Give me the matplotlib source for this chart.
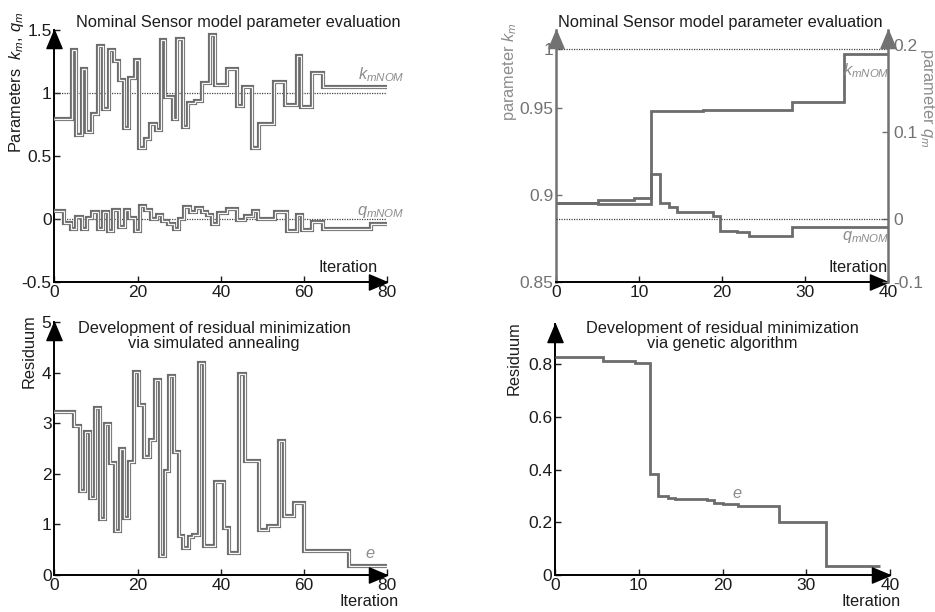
import numpy as np
import matplotlib
matplotlib.use('Agg')
import matplotlib.pyplot as plt
from matplotlib.ticker import FuncFormatter

plt.rcParams['font.family'] = ['Liberation Sans', 'DejaVu Sans']
plt.rcParams['font.size'] = 11.8
plt.rcParams['axes.unicode_minus'] = False
plt.rcParams['mathtext.fontset'] = 'custom'
plt.rcParams['mathtext.rm'] = 'Liberation Sans'
plt.rcParams['mathtext.it'] = 'Liberation Sans:italic'

# ---- simulated annealing: parameter evaluation (top left) ----
sa_k_edges = [0, 4.2, 5.2, 6.6, 7.6, 9.0, 10.4, 11.8, 13.2, 14.3, 15.6, 16.7, 17.9, 19.4,
              20.4, 21.8, 23.0, 24.4, 25.7, 26.7, 28.4, 29.5, 30.8, 32.2, 33.8, 35.4, 37.3,
              38.7, 41.4, 43.8, 45.3, 47.6, 49.1, 52.9, 55.5, 58.2, 59.3, 61.8, 64.5, 80.0]
sa_k_vals = [0.79, 1.34, 0.67, 1.19, 0.69, 0.83, 1.37, 0.87, 1.34, 1.25, 1.10, 0.72, 1.12,
             1.26, 0.56, 0.635, 0.75, 0.71, 1.42, 0.97, 0.79, 1.43, 0.73, 0.92, 0.94, 1.08,
             1.46, 1.06, 1.19, 0.90, 1.045, 0.56, 0.755, 1.09, 0.905, 1.29, 0.885, 1.155, 1.05]
sa_q_edges = [0, 2.4, 3.9, 5.3, 6.6, 7.8, 9.1, 10.5, 11.8, 13.0, 14.2, 15.5, 16.9, 17.9,
              19.3, 20.5, 21.9, 23.2, 24.6, 25.9, 27.2, 28.7, 30.0, 31.2, 32.6, 34.0, 35.4,
              36.8, 38.0, 39.4, 41.6, 44.0, 45.8, 47.8, 49.0, 53.0, 56.0, 58.2, 59.4, 62.0,
              64.6, 76.2, 80.6]
sa_q_vals = [0.06, -0.035, -0.08, 0.015, -0.08, 0.005, 0.055, -0.08, 0.055, -0.095,
             0.07, -0.065, 0.07, 0.01, -0.095, 0.1, 0.075, 0.0, 0.035, -0.015,
             -0.04, -0.08, 0.0, 0.095, 0.055, 0.09, 0.055, 0.035, -0.04, 0.045,
             0.08, -0.01, 0.025, 0.06, 0.0, 0.053, -0.098, 0.032, -0.087, -0.026,
             -0.079, -0.04]

# ---- genetic algorithm: parameter evaluation (top right) ----
ga_k_edges = [0, 5.1, 9.4, 11.5, 17.7, 28.4, 34.7, 40]
ga_k_vals = [0.8956, 0.897, 0.898, 0.9483, 0.949, 0.955, 0.9958]
ga_q_edges = [0, 5.1, 11.5, 12.5, 13.6, 14.6, 18.9, 19.8, 21.8, 23.2, 28.4, 40]
ga_q_vals = [0.0187, 0.0175, 0.0517, 0.0187, 0.0134, 0.0084, 0.0034, -0.0186, -0.021,
             -0.027, -0.0122]

# ---- residuals ----
sa_e_edges = [0, 4.7, 6.2, 7.4, 8.6, 9.8, 11.0, 12.2, 13.4, 14.6, 15.8, 16.8, 18.0, 19.2,
              20.4, 21.6, 23.0, 24.2, 25.4, 26.6, 27.6, 28.8, 30.0, 31.0, 32.3, 33.4, 34.7,
              36.0, 38.6, 40.8, 42.0, 44.4, 45.8, 49.2, 51.4, 54.0, 55.2, 57.6, 60.0, 70.9, 80.0]
sa_e_vals = [3.23, 2.95, 1.66, 2.82, 1.52, 3.30, 1.11, 2.98, 2.21, 0.87,
             2.50, 1.12, 2.24, 4.01, 3.35, 2.33, 2.66, 3.85, 0.38, 2.05,
             3.93, 2.43, 0.78, 0.53, 0.76, 0.79, 4.18, 0.58, 1.83, 0.92,
             0.43, 3.98, 2.26, 0.88, 0.96, 2.64, 1.17, 1.42, 0.48, 0.18]
ga_e_edges = [0, 5.7, 9.5, 11.4, 12.35, 13.5, 14.3, 18.2, 19.0, 20.0, 21.8, 26.7, 32.4, 38.8]
ga_e_vals = [0.827, 0.813, 0.806, 0.384, 0.301, 0.294, 0.289, 0.285, 0.272, 0.268,
             0.263, 0.203, 0.035]

k_nom = 1.0
q_nom = 0.0

# the source's top-right axes are not evenly spaced, calibrate them piecewise
k_axis_vals = [0.80, 0.85, 0.90, 0.95, 1.00, 1.05]
k_axis_pos = [-87, 0, 87, 174, 233, 292]
q_axis_vals = [-0.2, -0.1, 0.0, 0.1, 0.2, 0.3]
q_axis_pos = [-63, 0, 63, 150, 237, 324]

W, H = 935, 612
LINE = '#6c6c6c'
LABEL = '#8c8c8c'
TXT = '#1c1c1c'
AX_GRAY = '#727272'


def box(left, top, right, bottom):
    return [left / W, 1 - bottom / H, (right - left) / W, (bottom - top) / H]


def px(x, y):
    return x / W, 1 - y / H


def arrow(ax, x, y, direction, color):
    if direction == 'right':
        verts = [(0, 0), (-1, 0.42), (-1, -0.42), (0, 0)]
    else:
        verts = [(0, 0), (0.42, -1), (-0.42, -1), (0, 0)]
    ax.plot(x, y, marker=verts, ms=26, color=color, transform=ax.transAxes,
            clip_on=False, zorder=10, lw=0)


def hollow(ax, vals, edges):
    ax.stairs(vals, edges, baseline=None, color=LINE, lw=3.0, joinstyle='miter', zorder=3)
    ax.stairs(vals, edges, baseline=None, color='#f6f6f6', lw=0.9, joinstyle='miter', zorder=4)


def nominal(ax, v):
    ax.axhline(v, color='#444444', lw=0.9, ls=(0, (1, 1)), zorder=2)


def style(ax):
    for s in ['top', 'right']:
        ax.spines[s].set_visible(False)
    for s in ['left', 'bottom']:
        ax.spines[s].set_linewidth(1.4)
        ax.spines[s].set_color('black')
    ax.tick_params(direction='in', length=4, width=1, pad=2, colors=TXT, labelsize=12.5)
    ax.xaxis.set_major_formatter(FuncFormatter(lambda v, p: f'{v:g}'))
    ax.yaxis.set_major_formatter(FuncFormatter(lambda v, p: f'{v:g}'))
    ax.patch.set_alpha(0)


fig = plt.figure(figsize=(W / 100, H / 100), dpi=100)

# top left
ax1 = fig.add_axes(box(54.3, 30, 387.3, 282))
style(ax1)
nominal(ax1, k_nom)
nominal(ax1, q_nom)
hollow(ax1, sa_k_vals, sa_k_edges)
hollow(ax1, sa_q_vals, sa_q_edges)
ax1.set_xlim(0, 80)
ax1.set_ylim(-0.5, 1.5)
ax1.set_xticks([0, 20, 40, 60, 80])
ax1.set_yticks([-0.5, 0, 0.5, 1, 1.5])
arrow(ax1, 1, 0, 'right', 'black')
arrow(ax1, 0, 1, 'up', 'black')

# top right
ax2 = fig.add_axes(box(556, 30, 888, 282))
ax2r = ax2.twinx()
ax2.set_yscale('function', functions=(lambda v: np.interp(v, k_axis_vals, k_axis_pos),
                                      lambda p: np.interp(p, k_axis_pos, k_axis_vals)))
ax2r.set_yscale('function', functions=(lambda v: np.interp(v, q_axis_vals, q_axis_pos),
                                       lambda p: np.interp(p, q_axis_pos, q_axis_vals)))
style(ax2)
ax2.spines['left'].set_color(AX_GRAY)
ax2.spines['left'].set_linewidth(1.8)
for s in ['top', 'left', 'bottom']:
    ax2r.spines[s].set_visible(False)
ax2r.spines['right'].set_color(AX_GRAY)
ax2r.spines['right'].set_linewidth(1.8)
ax2r.tick_params(direction='in', length=4, width=1, pad=4, colors=AX_GRAY, labelsize=12.5)
ax2r.yaxis.set_major_formatter(FuncFormatter(lambda v, p: f'{v:g}'))
ax2.tick_params(axis='y', colors=AX_GRAY)
ax2.tick_params(axis='x', colors=TXT)
nominal(ax2, k_nom)
nominal(ax2r, q_nom)
ax2.stairs(ga_k_vals, ga_k_edges, baseline=None, color=LINE, lw=2.0, joinstyle='miter', zorder=3)
ax2r.stairs(ga_q_vals, ga_q_edges, baseline=None, color=LINE, lw=2.0, joinstyle='miter', zorder=3)
ax2.set_xlim(0, 40)
ax2.set_ylim(0.85, 1.0161)
ax2r.set_ylim(-0.1, 0.2172)
ax2.set_xticks([0, 10, 20, 30, 40])
ax2.set_yticks([0.85, 0.9, 0.95, 1])
ax2r.set_yticks([-0.1, 0, 0.1, 0.2])
arrow(ax2, 1, 0, 'right', 'black')
arrow(ax2, 0, 1, 'up', AX_GRAY)
arrow(ax2r, 1, 1, 'up', AX_GRAY)

# bottom left
ax3 = fig.add_axes(box(54.3, 322, 387.3, 575))
style(ax3)
hollow(ax3, sa_e_vals, sa_e_edges)
ax3.set_xlim(0, 80)
ax3.set_ylim(0, 5)
ax3.set_xticks([0, 20, 40, 60, 80])
ax3.set_yticks([0, 1, 2, 3, 4, 5])
arrow(ax3, 1, 0, 'right', 'black')
arrow(ax3, 0, 1, 'up', 'black')

# bottom right
ax4 = fig.add_axes(box(555, 324, 890, 575))
style(ax4)
ax4.stairs(ga_e_vals, ga_e_edges, baseline=None, color=LINE, lw=2.0, joinstyle='miter', zorder=3)
ax4.set_xlim(0, 40)
ax4.set_ylim(0, 0.953)
ax4.set_xticks([0, 10, 20, 30, 40])
ax4.set_yticks([0, 0.2, 0.4, 0.6, 0.8])
arrow(ax4, 1, 0, 'right', 'black')
arrow(ax4, 0, 1, 'up', 'black')

# titles
fig.text(*px(238, 23), 'Nominal Sensor model parameter evaluation', ha='center', va='center', color=TXT)
fig.text(*px(720, 23), 'Nominal Sensor model parameter evaluation', ha='center', va='center', color=TXT)
fig.text(*px(214, 336), 'Development of residual minimization\nvia simulated annealing',
         ha='center', va='center', color=TXT, linespacing=1.0)
fig.text(*px(722, 336), 'Development of residual minimization\nvia genetic algorithm',
         ha='center', va='center', color=TXT, linespacing=1.0)

# axis labels
fig.text(*px(17, 82), r'Parameters  $k_m$, $q_m$', rotation=90, ha='center', va='center', color=TXT)
fig.text(*px(510, 72), r'parameter $k_m$', rotation=90, ha='center', va='center', color=LABEL)
fig.text(*px(927, 98), r'parameter $q_m$', rotation=270, ha='center', va='center', color=LABEL)
fig.text(*px(29, 351), 'Residuum', rotation=90, ha='center', va='center', color=TXT)
fig.text(*px(514, 358), 'Residuum', rotation=90, ha='center', va='center', color=TXT)
fig.text(*px(378, 267), 'Iteration', ha='right', va='center', color=TXT)
fig.text(*px(888, 267), 'Iteration', ha='right', va='center', color=TXT)
fig.text(*px(399, 601), 'Iteration', ha='right', va='center', color=TXT)
fig.text(*px(901, 601), 'Iteration', ha='right', va='center', color=TXT)

# curve labels
fig.text(*px(381, 75), r'$k_{mNOM}$', ha='center', va='center', color=LABEL)
fig.text(*px(381, 212), r'$q_{mNOM}$', ha='center', va='center', color=LABEL)
fig.text(*px(866, 71), r'$k_{mNOM}$', ha='center', va='center', color=LABEL)
fig.text(*px(866, 237), r'$q_{mNOM}$', ha='center', va='center', color=LABEL)
fig.text(*px(370, 554), r'$e$', ha='center', va='center', color=LABEL)
fig.text(*px(737, 494), r'$e$', ha='center', va='center', color=LABEL)

fig.savefig('out.png', dpi=100)
